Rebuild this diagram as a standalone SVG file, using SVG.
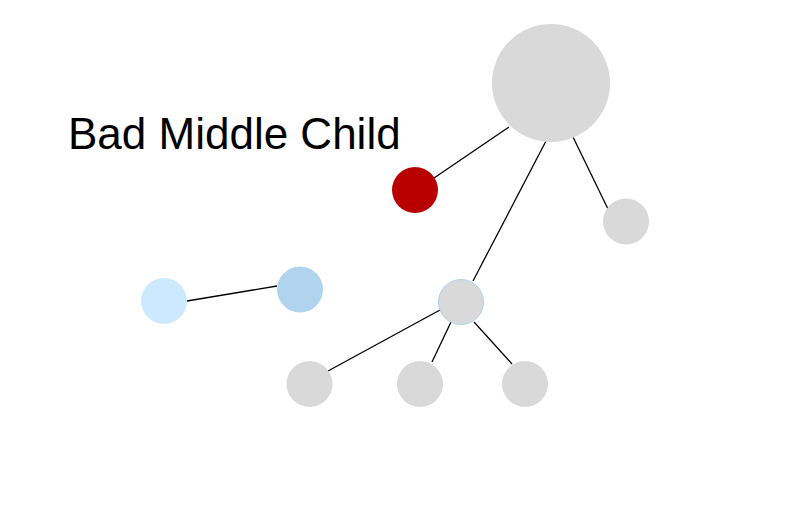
<svg xmlns="http://www.w3.org/2000/svg" width="800" height="523" viewBox="0 0 800 523">
<style>
.n{fill:#d9d9d9}
.e{stroke:#000;stroke-width:1.3;fill:none}
.t{font-family:"Liberation Sans",Arial,sans-serif;font-size:44px;fill:#000}
</style>
<rect width="800" height="523" fill="#fff"/>
<g id="connectors">
<line class="e" x1="509" y1="127" x2="434" y2="178"/>
<line class="e" x1="546" y1="141" x2="473" y2="281"/>
<line class="e" x1="573" y1="137" x2="608" y2="209"/>
<line class="e" x1="187" y1="301" x2="277" y2="286"/>
<line class="e" x1="440" y1="310" x2="328" y2="371"/>
<line class="e" x1="451" y1="322" x2="432" y2="362"/>
<line class="e" x1="474" y1="322" x2="512" y2="364"/>
</g>
<text class="t" x="68" y="148.5">Bad Middle Child</text>
<g id="root"><circle class="n" cx="551" cy="83" r="59"/></g>
<g id="bad"><circle cx="415" cy="190" r="23" fill="#b80000"/></g>
<g id="right"><circle class="n" cx="626" cy="221.5" r="23"/></g>
<g id="middle"><circle class="n" cx="461" cy="302" r="22.5" stroke="#a9d2f0" stroke-width="1"/></g>
<g id="blue1"><circle cx="164" cy="301" r="23" fill="#cce9ff"/></g>
<g id="blue2"><circle cx="300" cy="289.5" r="23" fill="#b0d4ee"/></g>
<g id="c1"><circle class="n" cx="309.5" cy="384" r="23"/></g>
<g id="c2"><circle class="n" cx="420" cy="384" r="23"/></g>
<g id="c3"><circle class="n" cx="525" cy="384" r="23"/></g>
</svg>
